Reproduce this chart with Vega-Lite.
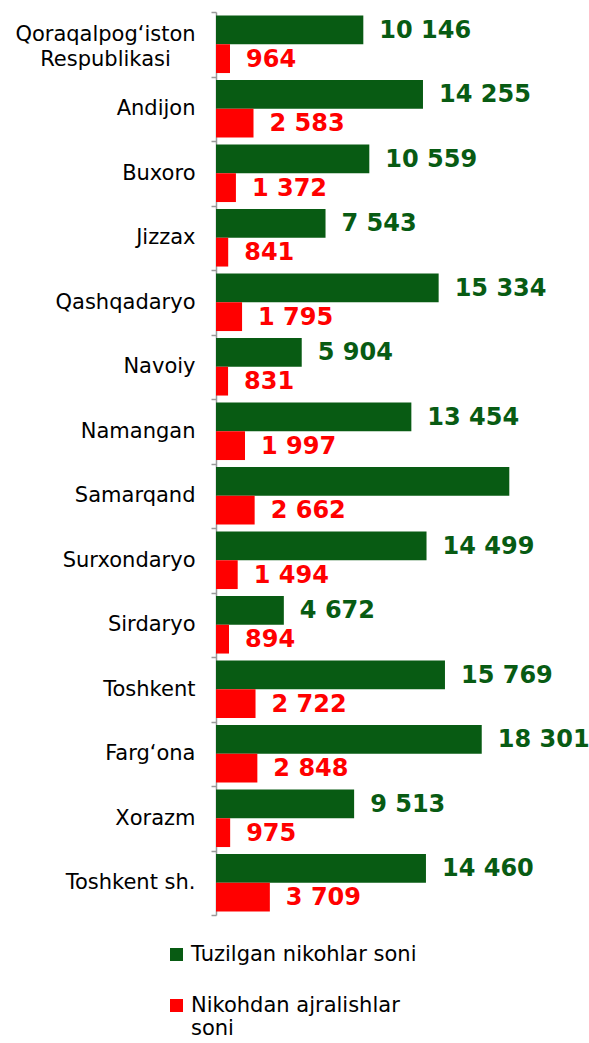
{
  "$schema": "https://vega.github.io/schema/vega-lite/v6.json",
  "width": 363,
  "height": 903,
  "autosize": {"type": "none"},
  "padding": {"left": 216, "top": 12, "right": 10, "bottom": 128},
  "background": "white",
  "config": {
    "view": {"stroke": null},
    "font": "DejaVu Sans",
    "locale": {"number": {"decimal": ".", "thousands": " ", "grouping": [3], "currency": ["", ""]}}
  },
  "data": {
    "values": [
      {"region": "Qoraqalpog‘iston Respublikasi", "series": "Tuzilgan nikohlar soni", "value": 10146},
      {"region": "Qoraqalpog‘iston Respublikasi", "series": "Nikohdan ajralishlar soni", "value": 964},
      {"region": "Andijon", "series": "Tuzilgan nikohlar soni", "value": 14255},
      {"region": "Andijon", "series": "Nikohdan ajralishlar soni", "value": 2583},
      {"region": "Buxoro", "series": "Tuzilgan nikohlar soni", "value": 10559},
      {"region": "Buxoro", "series": "Nikohdan ajralishlar soni", "value": 1372},
      {"region": "Jizzax", "series": "Tuzilgan nikohlar soni", "value": 7543},
      {"region": "Jizzax", "series": "Nikohdan ajralishlar soni", "value": 841},
      {"region": "Qashqadaryo", "series": "Tuzilgan nikohlar soni", "value": 15334},
      {"region": "Qashqadaryo", "series": "Nikohdan ajralishlar soni", "value": 1795},
      {"region": "Navoiy", "series": "Tuzilgan nikohlar soni", "value": 5904},
      {"region": "Navoiy", "series": "Nikohdan ajralishlar soni", "value": 831},
      {"region": "Namangan", "series": "Tuzilgan nikohlar soni", "value": 13454},
      {"region": "Namangan", "series": "Nikohdan ajralishlar soni", "value": 1997},
      {"region": "Samarqand", "series": "Tuzilgan nikohlar soni", "value": 20200},
      {"region": "Samarqand", "series": "Nikohdan ajralishlar soni", "value": 2662},
      {"region": "Surxondaryo", "series": "Tuzilgan nikohlar soni", "value": 14499},
      {"region": "Surxondaryo", "series": "Nikohdan ajralishlar soni", "value": 1494},
      {"region": "Sirdaryo", "series": "Tuzilgan nikohlar soni", "value": 4672},
      {"region": "Sirdaryo", "series": "Nikohdan ajralishlar soni", "value": 894},
      {"region": "Toshkent", "series": "Tuzilgan nikohlar soni", "value": 15769},
      {"region": "Toshkent", "series": "Nikohdan ajralishlar soni", "value": 2722},
      {"region": "Farg‘ona", "series": "Tuzilgan nikohlar soni", "value": 18301},
      {"region": "Farg‘ona", "series": "Nikohdan ajralishlar soni", "value": 2848},
      {"region": "Xorazm", "series": "Tuzilgan nikohlar soni", "value": 9513},
      {"region": "Xorazm", "series": "Nikohdan ajralishlar soni", "value": 975},
      {"region": "Toshkent sh.", "series": "Tuzilgan nikohlar soni", "value": 14460},
      {"region": "Toshkent sh.", "series": "Nikohdan ajralishlar soni", "value": 3709}
    ]
  },
  "encoding": {
    "y": {
      "field": "region",
      "type": "nominal",
      "sort": ["Qoraqalpog‘iston Respublikasi", "Andijon", "Buxoro", "Jizzax", "Qashqadaryo", "Navoiy", "Namangan", "Samarqand", "Surxondaryo", "Sirdaryo", "Toshkent", "Farg‘ona", "Xorazm", "Toshkent sh."],
      "scale": {"paddingInner": 0, "paddingOuter": 0},
      "axis": {
        "title": null,
        "domainColor": "#9A9A9A",
        "domainWidth": 1.5,
        "tickColor": "#9A9A9A",
        "tickWidth": 1.5,
        "tickSize": 5,
        "tickBand": "extent",
        "labelFont": "DejaVu Sans",
        "labelFontSize": 21,
        "labelColor": "black",
        "labelPadding": {"condition": {"test": "datum.value == 'Qoraqalpog‘iston Respublikasi'", "value": 106}, "value": 16},
        "labelAlign": {"condition": {"test": "datum.value == 'Qoraqalpog‘iston Respublikasi'", "value": "center"}, "value": "right"},
        "labelLimit": 260,
        "labelLineHeight": 25,
        "labelOffset": {"condition": {"test": "datum.value == 'Qoraqalpog‘iston Respublikasi'", "value": -10}, "value": 0},
        "labelExpr": "datum.value == 'Qoraqalpog‘iston Respublikasi' ? ['Qoraqalpog‘iston', 'Respublikasi'] : datum.value"
      }
    },
    "yOffset": {
      "field": "series",
      "type": "nominal",
      "sort": ["Tuzilgan nikohlar soni", "Nikohdan ajralishlar soni"],
      "scale": {"paddingInner": 0, "paddingOuter": 0.12}
    },
    "x": {
      "field": "value",
      "type": "quantitative",
      "scale": {"domain": [0, 25000]},
      "axis": null
    },
    "color": {
      "field": "series",
      "type": "nominal",
      "scale": {"domain": ["Tuzilgan nikohlar soni", "Nikohdan ajralishlar soni"], "range": ["#085B13", "#FF0000"]},
      "legend": {
        "title": null,
        "orient": "none",
        "legendX": -50,
        "legendY": 932,
        "symbolType": "square",
        "symbolSize": 169,
        "symbolStrokeWidth": 0,
        "labelFont": "DejaVu Sans",
        "labelFontSize": 21,
        "labelColor": "black",
        "labelOffset": 4,
        "labelLimit": 300,
        "labelLineHeight": 25,
        "rowPadding": 29,
        "labelExpr": "datum.label == 'Nikohdan ajralishlar soni' ? ['Nikohdan ajralishlar', 'soni'] : datum.label"
      }
    }
  },
  "layer": [
    {"mark": {"type": "bar"}},
    {
      "transform": [{"filter": "!(datum.region == 'Samarqand' && datum.series == 'Tuzilgan nikohlar soni')"}],
      "mark": {"type": "text", "align": "left", "baseline": "middle", "dx": 16, "dy": 1, "font": "DejaVu Sans", "fontSize": 24, "fontWeight": "bold"},
      "encoding": {"text": {"field": "value", "type": "quantitative", "format": ",d"}}
    }
  ]
}
